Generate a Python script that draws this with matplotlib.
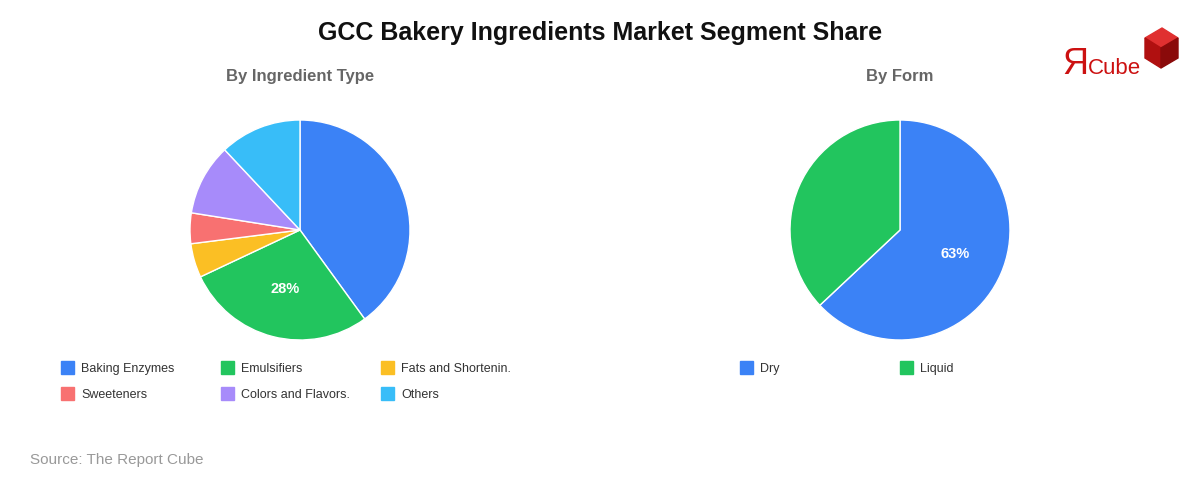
import numpy as np
import matplotlib.pyplot as plt
from matplotlib.patches import Polygon

ing_labels = ["Baking Enzymes", "Emulsifiers", "Fats and Shortenin.", "Sweeteners", "Colors and Flavors.", "Others"]
ing_values = [40, 28, 5, 4.5, 10.5, 12]
ing_colors = ["#3b82f6", "#22c55e", "#fbbf24", "#f87171", "#a78bfa", "#38bdf8"]

form_labels = ["Dry", "Liquid"]
form_values = [63, 37]
form_colors = ["#3b82f6", "#22c55e"]

plt.rcParams['font.family'] = ['Liberation Sans', 'DejaVu Sans']
fig = plt.figure(figsize=(12, 4.8), dpi=100)
fig.patch.set_facecolor('white')

fig.text(0.5, 1 - 33 / 480, "GCC Bakery Ingredients Market Segment Share", ha='center', va='center',
         fontsize=18, fontweight='bold', color='#111111')
fig.text(0.25, 1 - 77 / 480, "By Ingredient Type", ha='center', va='center', fontsize=12, fontweight='bold', color='#666666')
fig.text(0.75, 1 - 77 / 480, "By Form", ha='center', va='center', fontsize=12, fontweight='bold', color='#666666')
fig.text(30 / 1200, 1 - 460 / 480, "Source: The Report Cube", fontsize=11, color='#999999', va='center')

def draw_pie(ax, values, colors, pct_idx):
    wedges, _ = ax.pie(values, colors=colors, startangle=90, counterclock=False,
                       wedgeprops=dict(edgecolor='white', linewidth=1))
    ax.set_xlim(-1, 1)
    ax.set_ylim(-1, 1)
    ax.set_aspect('equal')
    w = wedges[pct_idx]
    ang = np.deg2rad((w.theta1 + w.theta2) / 2)
    ax.text(0.55 * np.cos(ang), 0.55 * np.sin(ang), f"{values[pct_idx]:.0f}%", ha='center', va='center',
            color='white', fontsize=10.5, fontweight='bold')

# pies: center (300,230)/(900,230), radius 110 px
ax1 = fig.add_axes([190 / 1200, 1 - 340 / 480, 220 / 1200, 220 / 480])
draw_pie(ax1, ing_values, ing_colors, 1)
ax2 = fig.add_axes([790 / 1200, 1 - 340 / 480, 220 / 1200, 220 / 480])
draw_pie(ax2, form_values, form_colors, 0)

def legend_items(labels, colors, x0, dx, y0, dy, ncol):
    for i, (lab, c) in enumerate(zip(labels, colors)):
        x = x0 + (i % ncol) * dx
        y = y0 + (i // ncol) * dy
        fig.patches.append(plt.Rectangle((x / 1200, 1 - (y + 6) / 480), 13 / 1200, 13 / 480,
                                         transform=fig.transFigure, color=c))
        fig.text((x + 20) / 1200, 1 - (y + 1) / 480, lab, fontsize=9, color='#333333', va='center')

legend_items(ing_labels, ing_colors, 61, 160, 368, 26, 3)
legend_items(form_labels, form_colors, 740, 160, 368, 26, 2)

# logo
fig.text(1062 / 1200, 1 - 64 / 480, "Я", fontsize=26, color='#cc1111', va='center', ha='left')
fig.text(1088 / 1200, 1 - 69 / 480, "Cube", fontsize=16, color='#cc1111', va='center', ha='left')
def px(pts):
    return [(x / 1200, 1 - y / 480) for x, y in pts]
fig.patches.append(Polygon(px([(1145, 38), (1162, 28), (1178, 38), (1161, 48)]), closed=True,
                           transform=fig.transFigure, color='#e03030'))
fig.patches.append(Polygon(px([(1145, 38), (1161, 48), (1161, 68), (1145, 58)]), closed=True,
                           transform=fig.transFigure, color='#b01010'))
fig.patches.append(Polygon(px([(1161, 48), (1178, 38), (1178, 58), (1161, 68)]), closed=True,
                           transform=fig.transFigure, color='#8a0a0a'))

fig.savefig("out.png", dpi=100, facecolor='white')
